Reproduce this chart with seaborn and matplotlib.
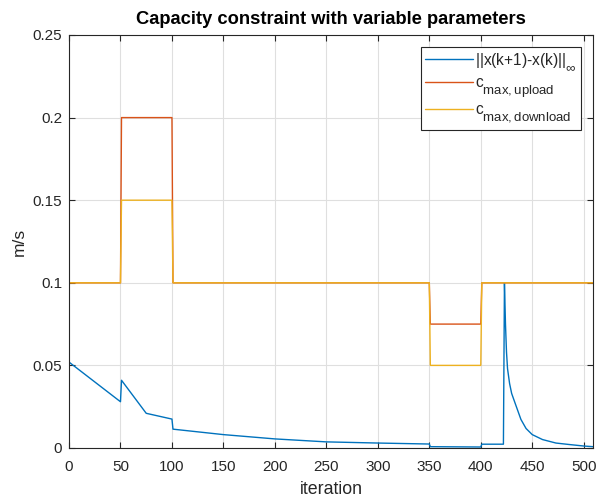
import matplotlib
matplotlib.use("Agg")
import matplotlib.pyplot as plt
import matplotlib._mathtext as _mt
import seaborn as sns
import pandas as pd

# larger, lower subscripts (closer to the MATLAB look)
_mt.SHRINK_FACTOR = 0.85
_mt.FontConstantsBase.sub1 = 0.8
_mt.FontConstantsBase.sub2 = 0.8

# ---- data ----
blue_x = [0, 50, 51, 75, 100, 101, 150, 200, 250, 300, 350, 351, 400, 401, 422,
          423, 424, 425, 426, 428, 430, 434, 439, 444, 450, 460, 473, 486, 500, 509]
blue_y = [0.052, 0.028, 0.041, 0.021, 0.0175, 0.0114, 0.0081, 0.0055, 0.0037, 0.003,
          0.0024, 0.0008, 0.0006, 0.0023, 0.0023,
          0.1, 0.075, 0.058, 0.048, 0.039, 0.033, 0.026, 0.0173, 0.0118, 0.0081,
          0.0051, 0.003, 0.0021, 0.0012, 0.0008]

c_x = [0, 50, 51, 100, 101, 350, 351, 400, 401, 509]
upload_y = [0.1, 0.1, 0.2, 0.2, 0.1, 0.1, 0.075, 0.075, 0.1, 0.1]
download_y = [0.1, 0.1, 0.15, 0.15, 0.1, 0.1, 0.05, 0.05, 0.1, 0.1]

labels = [r"||x(k+1)-x(k)||$_{\infty}$",
          r"c$_{\mathrm{max,upload}}$",
          r"c$_{\mathrm{max,download}}$"]
colors = ["#0072BD", "#D95319", "#EDB120"]

x_ticks = list(range(0, 501, 50))
y_ticks = [0, 0.05, 0.1, 0.15, 0.2, 0.25]
y_ticklabels = ["0", "0.05", "0.1", "0.15", "0.2", "0.25"]

df = pd.concat([
    pd.DataFrame({"iteration": blue_x, "value": blue_y, "series": labels[0]}),
    pd.DataFrame({"iteration": c_x, "value": upload_y, "series": labels[1]}),
    pd.DataFrame({"iteration": c_x, "value": download_y, "series": labels[2]}),
], ignore_index=True)

sns.set_theme(style="whitegrid")
plt.rcParams["font.family"] = ["Liberation Sans", "DejaVu Sans"]
plt.rcParams["mathtext.fontset"] = "custom"
plt.rcParams["mathtext.rm"] = "Liberation Sans"
plt.rcParams["mathtext.it"] = "Liberation Sans:italic"
plt.rcParams["mathtext.bf"] = "Liberation Sans:bold"

fig = plt.figure(figsize=(5.98, 4.97), dpi=100)
ax = fig.add_axes([0.1154, 0.0986, 0.8762, 0.831])

sns.lineplot(data=df, x="iteration", y="value", hue="series", palette=colors,
             hue_order=labels, sort=False, estimator=None, linewidth=1.0, ax=ax)

ax.set_xlim(0, 509)
ax.set_ylim(0, 0.25)
ax.set_xticks(x_ticks)
ax.set_yticks(y_ticks)
ax.set_yticklabels(y_ticklabels)

ax.set_facecolor("white")
ax.grid(True, color="#dfdfdf", linewidth=0.8)
for s in ax.spines.values():
    s.set_visible(True)
    s.set_color("#262626")
    s.set_linewidth(0.8)
ax.tick_params(axis="both", which="both", direction="in", length=4, width=0.8,
               color="#262626", labelcolor="#262626", labelsize=11,
               top=True, right=True, bottom=True, left=True)
ax.tick_params(axis="x", pad=9)
ax.tick_params(axis="y", pad=5)

ax.set_xlabel("iteration", fontsize=12.8, color="#262626", labelpad=5)
ax.set_ylabel("m/s", fontsize=12.5, color="#262626", labelpad=4)
ax.set_title("Capacity constraint with variable parameters", fontsize=13.2,
             fontweight="bold", color="black", pad=8)

leg = ax.legend(loc="upper right", fontsize=11.2, frameon=True, fancybox=False,
                edgecolor="#262626", framealpha=1, borderpad=0.3,
                handlelength=3.05, labelspacing=0.2, borderaxespad=0.75,
                handletextpad=0.15)
leg.get_frame().set_linewidth(0.8)
for line in leg.get_lines():
    line.set_linewidth(1.0)

fig.savefig("out.png", dpi=100)
